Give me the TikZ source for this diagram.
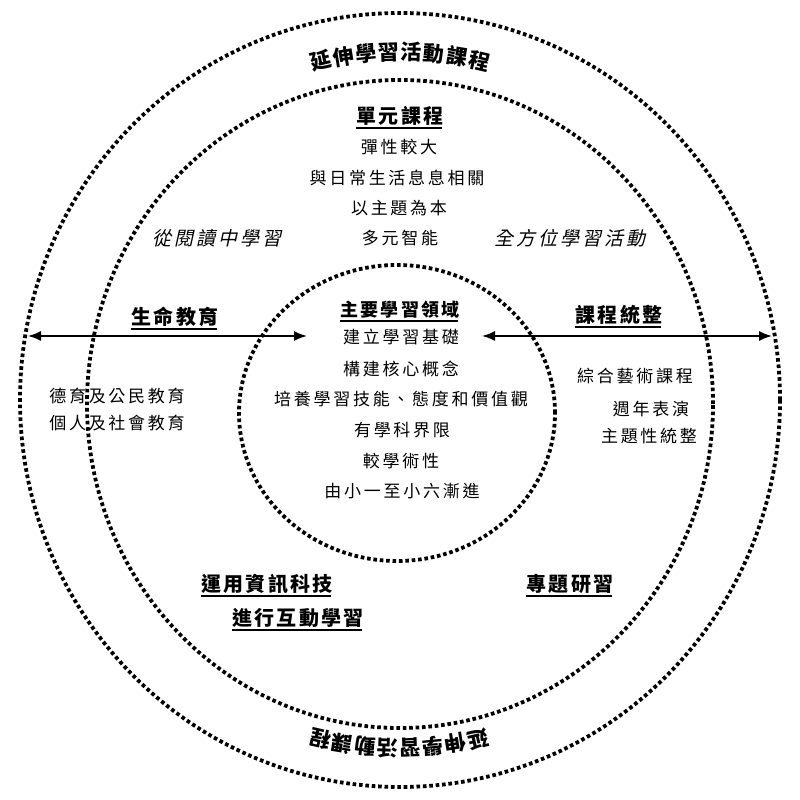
\documentclass[tikz,border=0pt]{standalone}
\usepackage{fontspec}
\usetikzlibrary{arrows.meta}
\newfontfamily\cjk[LetterSpace=16]{Noto Sans CJK TC}
\newfontfamily\cjkb[LetterSpace=12]{Noto Sans CJK TC}
\newfontfamily\cjkit[FakeSlant=0.22,LetterSpace=16]{Noto Sans CJK TC}
\newfontfamily\cjkarc{Noto Sans CJK TC}
\tikzset{
  dotc/.style={line width=3.8pt, dash pattern=on 3.6pt off 2.8pt},
  body/.style={font=\cjk\fontsize{17}{17}\selectfont, inner sep=0pt},
  ital/.style={font=\cjkit\fontsize{19}{19}\selectfont, inner sep=0pt},
  ttl/.style={font=\cjkb\bfseries\fontsize{20}{20}\selectfont, inner sep=0pt},
  arcch/.style={font=\cjkarc\bfseries\fontsize{21}{21}\selectfont, inner sep=0pt},
  ul/.style={line width=1.8pt},
  arr/.style={line width=1.6pt, {Latex[length=13pt,width=10pt]}-{Latex[length=13pt,width=10pt]}}
}
\begin{document}
\begin{tikzpicture}[x=1pt,y=1pt]
\useasboundingbox (0,0) rectangle (800,800);
% circles
\draw[dotc] (400,400) ellipse [x radius=380, y radius=387];
\draw[dotc] (400,396) ellipse [x radius=313, y radius=324];
\draw[dotc] (397,387) ellipse [x radius=158, y radius=148];
% curved texts
\foreach \ch [count=\i] in {延,伸,學,習,活,動,課,程} {
  \pgfmathsetmacro\ang{90+(4.5-\i)*3.75}
  \node[arcch, rotate=\ang-90] (top\i) at ([shift={(\ang:348)}]400,400) {\ch};
  \pgfmathsetmacro\angb{-90+(4.5-\i)*3.75}
  \node[arcch, rotate=\angb-90] (bot\i) at ([shift={(\angb:348)}]399,400) {\ch};
}
% unit curriculum
\node[ttl] (t1) at (400,684) {單元課程};
\draw[ul] ([yshift=-2pt]t1.south west) -- ([yshift=-2pt,xshift=-2pt]t1.south east);
\node[body] (b1) at (399,653) {彈性較大};
\node[body] (b2) at (397,622) {與日常生活息息相關};
\node[body] (b3) at (399,592) {以主題為本};
\node[body] (b4) at (400,562) {多元智能};
\node[ital] (i1) at (217,562) {從閱讀中學習};
\node[ital] (i2) at (570,562) {全方位學習活動};
% core
\node[ttl, font=\cjkb\bfseries\fontsize{18}{18}\selectfont] (t2) at (400,490) {主要學習領域};
\draw[ul] ([yshift=-2pt]t2.south west) -- ([yshift=-2pt,xshift=-2pt]t2.south east);
\node[body] (c1) at (401,463) {建立學習基礎};
\node[body] (c2) at (401,431) {構建核心概念};
\node[body] (c3) at (401,401) {培養學習技能、態度和價值觀};
\node[body] (c4) at (402,370) {有學科界限};
\node[body] (c5) at (401,339) {較學術性};
\node[body] (c6) at (402,309) {由小一至小六漸進};
% left
\node[ttl] (t3) at (175,483) {生命教育};
\draw[ul] ([yshift=-2pt]t3.south west) -- ([yshift=-2pt,xshift=-2pt]t3.south east);
\node[body] (l1) at (117,404) {德育及公民教育};
\node[body] (l2) at (117,377) {個人及社會教育};
% right
\node[ttl] (t4) at (619,485) {課程統整};
\draw[ul] ([yshift=-2pt]t4.south west) -- ([yshift=-2pt,xshift=-2pt]t4.south east);
\node[body] (r1) at (635,424) {綜合藝術課程};
\node[body] (r2) at (651,391) {週年表演};
\node[body] (r3) at (649,364) {主題性統整};
% bottom
\node[ttl] (t5) at (267,216) {運用資訊科技};
\draw[ul] ([yshift=-2pt]t5.south west) -- ([yshift=-2pt,xshift=-2pt]t5.south east);
\node[ttl] (t6) at (298,182) {進行互動學習};
\draw[ul] ([yshift=-2pt]t6.south west) -- ([yshift=-2pt,xshift=-2pt]t6.south east);
\node[ttl] (t7) at (570,216) {專題研習};
\draw[ul] ([yshift=-2pt]t7.south west) -- ([yshift=-2pt,xshift=-2pt]t7.south east);
% arrows
\coordinate (la) at (28,464);
\coordinate (lb) at (307,464);
\coordinate (ra) at (482,464);
\coordinate (rb) at (772,464);
\draw[arr] (la) -- (lb);
\draw[arr] (ra) -- (rb);
\end{tikzpicture}
\end{document}
